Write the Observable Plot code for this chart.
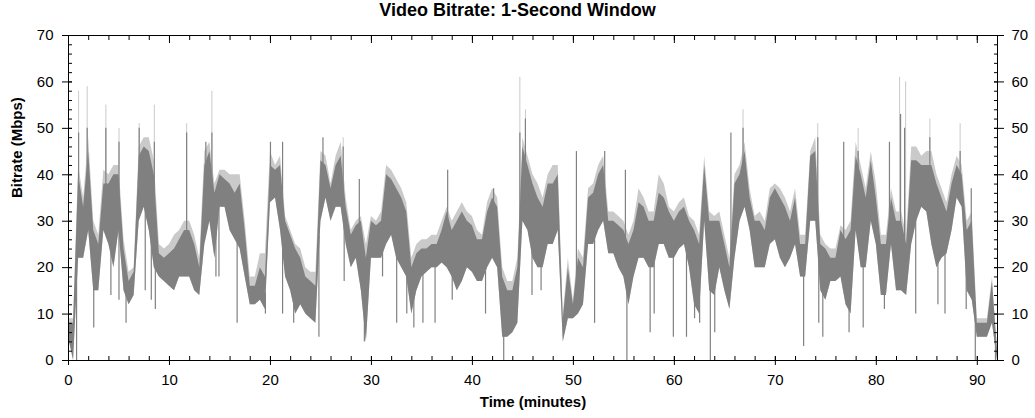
<!DOCTYPE html>
<html>
<head>
<meta charset="utf-8">
<script src="https://cdn.jsdelivr.net/npm/d3@7"></script>
<script src="https://cdn.jsdelivr.net/npm/@observablehq/plot@0.6"></script>
<style>
  html, body { margin: 0; padding: 0; background: #fff; }
  #wrap { position: relative; width: 1035px; height: 418px; font-family: "Liberation Sans", Arial, sans-serif; }
  #title { position: absolute; top: 0px; left: 0; width: 1035px; text-align: center; font-weight: bold; font-size: 18px; color: #000; line-height: 21px; }
  #chart { position: absolute; top: 0; left: 0; }
</style>
</head>
<body>
<div id="wrap">
  <div id="chart"></div>
  <div id="title">Video Bitrate: 1-Second Window</div>
</div>
<script>
// Sample times (minutes), every half minute from 0 to 92
const minutes = d3.range(0, 92.001, 0.5);

// Lower edge of the dense (dark) trace, Mbps
const low = [
  5,0,22,22,28,15,15,28,25,20,
  28,15,12,14,30,33,28,20,18,17,
  16,15,18,18,18,15,14,25,30,22,
  33,33,28,26,24,18,12,12,13,11,
  34,35,28,18,15,10,12,10,9,8,
  30,35,30,33,33,25,20,22,15,4,
  22,22,22,25,27,22,20,18,10,15,
  18,19,20,20,21,20,18,15,17,20,
  19,17,17,20,22,20,5,5,6,8,
  30,28,22,20,20,25,25,28,4,9,
  9,10,12,25,25,28,30,23,23,20,
  18,12,18,22,22,20,20,25,25,22,
  22,24,25,20,12,10,30,15,14,20,
  15,11,22,30,33,28,20,20,20,25,
  26,22,20,22,25,18,18,30,30,15,
  13,17,17,18,12,10,28,20,20,30,
  25,14,14,25,15,15,14,25,30,33,
  32,25,20,22,23,28,35,33,15,13,
  5,5,5,8,0
];

// Upper edge of the dense (dark) trace, Mbps
const high = [
  8,8,40,33,45,28,25,38,38,40,
  40,24,17,19,44,46,45,40,23,22,
  23,24,26,28,28,25,20,42,45,36,
  40,39,38,36,38,28,16,16,20,18,
  42,41,42,30,27,24,22,18,17,16,
  43,42,37,42,44,33,27,29,30,22,
  30,29,30,40,39,37,35,32,20,23,
  24,24,25,25,28,32,28,30,32,30,
  29,26,26,32,35,33,18,15,15,20,
  46,42,38,35,33,38,38,40,9,20,
  12,22,20,35,36,40,42,30,30,29,
  28,25,28,34,33,30,30,36,35,32,
  30,32,33,30,28,25,42,30,30,30,
  25,20,38,40,45,35,30,30,28,35,
  37,35,33,30,35,25,25,44,45,25,
  24,22,22,28,26,28,44,40,35,43,
  35,25,25,35,30,30,25,43,43,42,
  42,42,38,35,32,38,42,40,28,30,
  8,8,8,17,2
];

// Top of the light grey halo (peak values), Mbps
const peak = [
  9,9,42,35,48,30,27,41,40,42,
  42,26,19,20,46,48,48,43,25,24,
  25,27,28,30,30,27,22,45,47,38,
  41,41,40,40,40,30,18,18,23,23,
  45,42,44,31,28,25,24,20,19,19,
  45,44,38,44,47,35,28,30,31,25,
  31,30,32,42,41,39,37,34,22,25,
  26,26,27,27,30,33,30,32,34,32,
  31,28,27,34,37,35,20,17,17,22,
  48,44,40,38,35,40,42,42,10,22,
  13,24,22,37,38,42,44,32,32,31,
  30,27,30,37,35,32,32,40,38,33,
  32,34,35,31,30,27,44,32,31,32,
  27,22,40,42,47,37,31,32,30,37,
  38,37,35,32,37,27,27,45,48,27,
  25,24,24,29,28,30,47,42,37,45,
  38,27,27,37,32,32,27,46,46,44,
  45,45,40,37,34,40,44,42,30,32,
  9,9,9,18,2
];

// Isolated dark spikes (minute, Mbps)
const spikeMinute = [
  1.0,1.85,3.7,5.0,7.0,8.5,11.7,13.6,14.2,20.0,21.2,25.2,27.2,28.8,37.55,42.1,44.7,45.25,50.3,53.1,55.15,65.6,66.8,74.2,76.77,78.2,81.3,82.4,82.8,85.3,88.3,89.4,
  0.8,2.5,4.2,5.0,5.7,7.6,8.2,8.6,14.6,14.9,16.7,19.5,21.2,22.3,24.8,27.3,29.3,31.1,32.5,33.5,34.2,35.1,36.3,38.0,41.3,43.1,45.9,46.8,52.1,55.3,57.6,58.0,59.9,61.2,62.0,62.5,63.56,64.0,72.8,74.3,74.7,77.3,78.7,80.8,83.9,86.1,86.8,88.9,89.8,91.8
];
const spikeValue = [
  49,50,50,47,50,47,49,47,49,47,47,48,46,39,41,37,49,52,45,45,41,49,50,48,47,45,47,53,50,48,45,37,
  0,7,14,13,8,15,13,11,18,18,8,10,10,8,5,17,4,18,8,10,7,8,8,13,10,0,14,15,8,0,6,10,5,5,9,8,0,6,3,8,5,6,7,11,10,12,10,11,0,0
];

// Isolated light grey spikes (minute, Mbps)
const lightMinute = [1.0,1.85,3.7,5.0,7.0,8.5,11.7,14.2,27.2,44.7,45.25,66.8,74.2,78.2,82.3,82.9,85.3,88.3];
const lightValue  = [58,59,55,50,51,55,51,58,48,61,54,54,51,50,61,60,52,51];

const rows = minutes.map((t, i) => ({t, lo: low[i], hi: high[i], top: peak[i]}));

function interp(arr, t) {
  const i = Math.min(Math.floor(t / 0.5), arr.length - 2);
  const f = (t - minutes[i]) / 0.5;
  return arr[i] * (1 - f) + arr[i + 1] * f;
}
const mid = t => (interp(low, t) + interp(high, t)) / 2;
const darkSpikes = spikeMinute.map((t, i) => ({t, v: spikeValue[i], base: mid(t)}));
const lightSpikes = lightMinute.map((t, i) => ({t, v: lightValue[i], base: mid(t)}));

const xMinor = d3.range(0, 93, 2);
const xMajor = d3.range(0, 91, 10);
const yMinor = d3.range(0, 71, 2);
const yMajor = d3.range(0, 71, 10);
const blank = () => "";

const DARK = "#808080";
const LIGHT = "#cacaca";

const chart = Plot.plot({
  width: 1035,
  height: 418,
  marginLeft: 68,
  marginRight: 38,
  marginTop: 35,
  marginBottom: 58,
  x: {domain: [0, 92]},
  y: {domain: [0, 70]},
  style: {fontFamily: "'Liberation Sans', Arial, sans-serif", fontSize: "15px", color: "#000", background: "#fff"},
  marks: [
    Plot.areaY(rows, {x: "t", y1: "lo", y2: "top", fill: LIGHT}),
    Plot.ruleX(lightSpikes, {x: "t", y1: "base", y2: "v", stroke: LIGHT, strokeWidth: 1}),
    Plot.areaY(rows, {x: "t", y1: "lo", y2: "hi", fill: DARK}),
    Plot.ruleX(darkSpikes, {x: "t", y1: "base", y2: "v", stroke: DARK, strokeWidth: 1.2}),
    Plot.frame({stroke: "#000", strokeWidth: 1}),
    // bottom axis
    Plot.axisX({anchor: "bottom", ticks: xMinor, tickSize: 4, dy: -4, tickFormat: blank, label: null, stroke: "#000"}),
    Plot.axisX({anchor: "bottom", ticks: xMajor, tickSize: 9, dy: -4, tickPadding: 9, tickFormat: d => d, label: null, stroke: "#000", fill: "#000"}),
    // top axis (ticks only)
    Plot.axisX({anchor: "top", ticks: xMinor, tickSize: 4, dy: 4, tickFormat: blank, label: null, stroke: "#000"}),
    Plot.axisX({anchor: "top", ticks: xMajor, tickSize: 7, dy: 7, tickFormat: blank, label: null, stroke: "#000"}),
    // left axis
    Plot.axisY({anchor: "left", ticks: yMinor, tickSize: 4, dx: 4, tickFormat: blank, label: null, stroke: "#000"}),
    Plot.axisY({anchor: "left", ticks: yMajor, tickSize: 10, dx: 4, tickPadding: 9, tickFormat: d => d, label: null, stroke: "#000", fill: "#000"}),
    // right axis
    Plot.axisY({anchor: "right", ticks: yMinor, tickSize: 4, dx: -4, tickFormat: blank, label: null, stroke: "#000"}),
    Plot.axisY({anchor: "right", ticks: yMajor, tickSize: 10, dx: -4, tickPadding: 8, tickFormat: d => d, label: null, stroke: "#000", fill: "#000"}),
    // axis titles
    Plot.text(["Time (minutes)"], {frameAnchor: "bottom", dy: 46, text: d => d, fontWeight: "bold", fontSize: 15, fill: "#000"}),
    Plot.text(["Bitrate (Mbps)"], {frameAnchor: "left", dx: -51, rotate: -90, text: d => d, fontWeight: "bold", fontSize: 15, fill: "#000"})
  ]
});
document.getElementById("chart").appendChild(chart);
</script>
</body>
</html>
